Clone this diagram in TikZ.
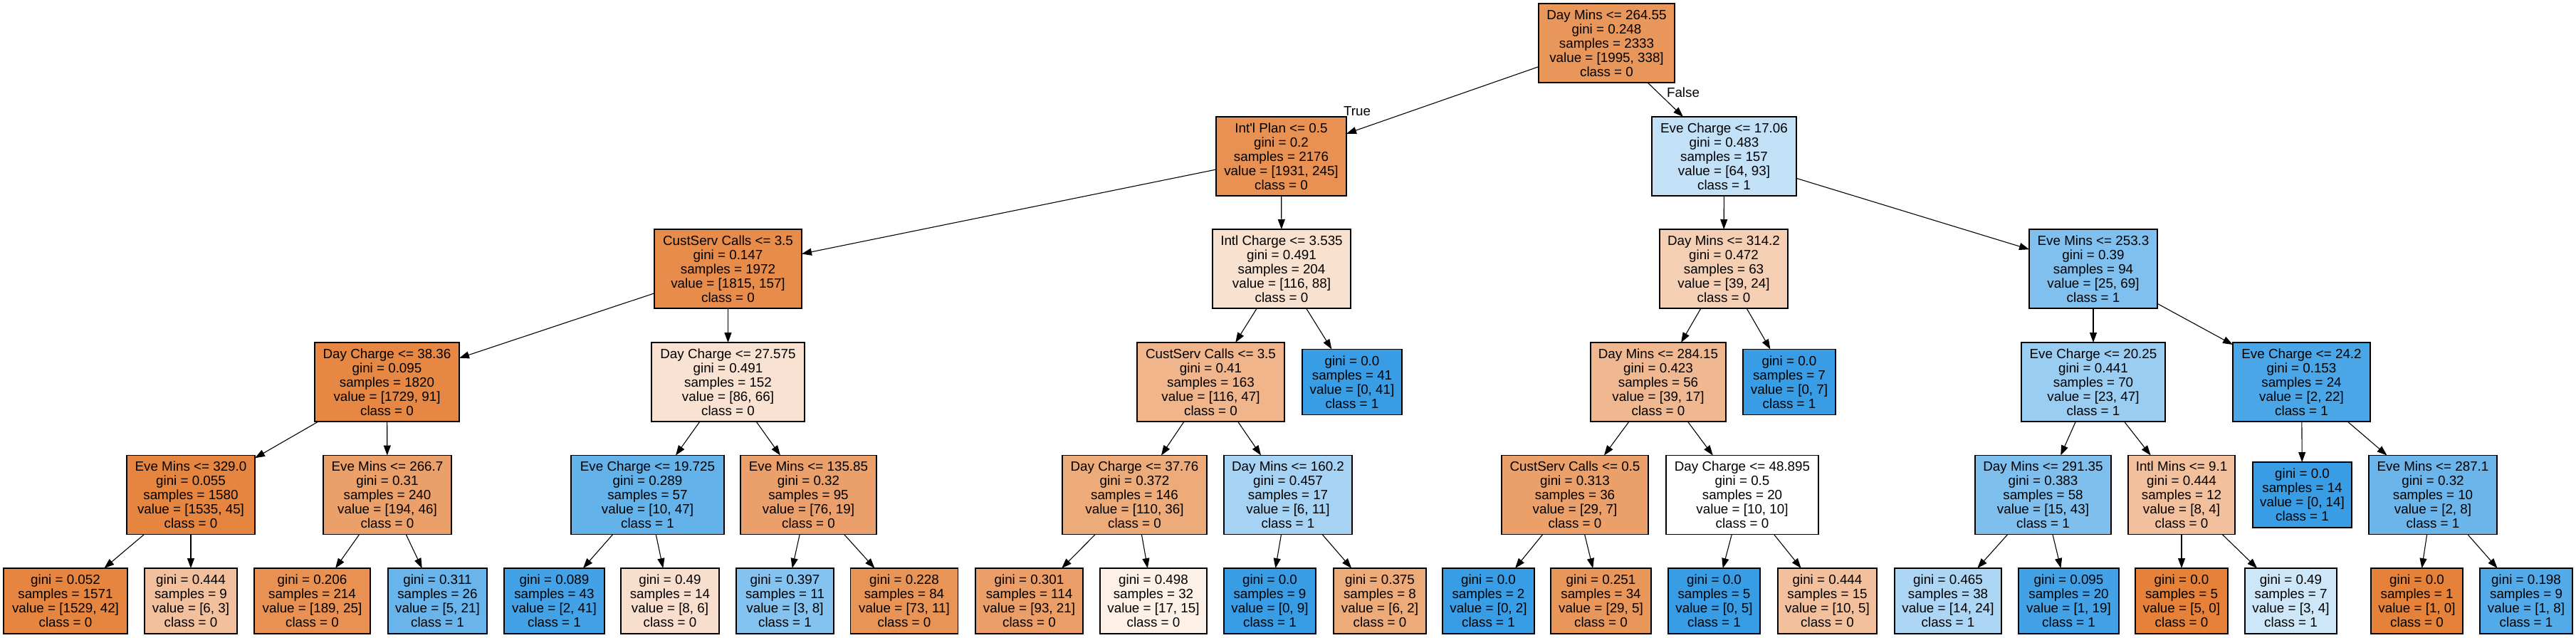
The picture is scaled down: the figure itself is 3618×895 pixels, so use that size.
\documentclass[tikz,border=0pt]{standalone}
\usepackage{fontspec}
\setmainfont{Liberation Sans}
\usetikzlibrary{arrows.meta}
\definecolor{cOr}{RGB}{229,129,57}
\definecolor{cBl}{RGB}{57,157,229}
\tikzset{
  tree/.style={draw=black, line width=0.7pt, rectangle, inner sep=0pt, outer sep=0pt,
    align=center, font=\fontsize{9.4}{10}\selectfont, minimum height=111*0.5pt},
  leaf/.style={tree, minimum height=92*0.5pt},
  bw/.style={minimum width=#1*0.5pt},
  edge/.style={draw=black, line width=0.55pt, -{Triangle[length=7pt,width=5pt]}},
  elabel/.style={font=\fontsize{9.4}{10}\selectfont, inner sep=0pt}
}
\begin{document}
\begin{tikzpicture}[x=0.5pt,y=-0.5pt]
\useasboundingbox (0,0) rectangle (3618,895);
% level 0
\node[tree,bw=191,fill=cOr!83] (n0) at (2256.5,60.5) {Day Mins <= 264.55\\gini = 0.248\\samples = 2333\\value = [1995, 338]\\class = 0};
% level 1
\node[tree,bw=183,fill=cOr!87] (n1) at (1799.5,219.5) {Int\textquotesingle l Plan <= 0.5\\gini = 0.2\\samples = 2176\\value = [1931, 245]\\class = 0};
\node[tree,bw=203,fill=cBl!31] (n2) at (2421.5,219.5) {Eve Charge <= 17.06\\gini = 0.483\\samples = 157\\value = [64, 93]\\class = 1};
% level 2
\node[tree,bw=207,fill=cOr!91] (n3) at (1022.5,377.5) {CustServ Calls <= 3.5\\gini = 0.147\\samples = 1972\\value = [1815, 157]\\class = 0};
\node[tree,bw=194,fill=cOr!24] (n4) at (1800,377.5) {Intl Charge <= 3.535\\gini = 0.491\\samples = 204\\value = [116, 88]\\class = 0};
\node[tree,bw=180,fill=cOr!38] (n5) at (2421,377.5) {Day Mins <= 314.2\\gini = 0.472\\samples = 63\\value = [39, 24]\\class = 0};
\node[tree,bw=180,fill=cBl!64] (n6) at (2940,377.5) {Eve Mins <= 253.3\\gini = 0.39\\samples = 94\\value = [25, 69]\\class = 1};
% level 3
\node[tree,bw=203,fill=cOr!95] (n7) at (543.5,536.5) {Day Charge <= 38.36\\gini = 0.095\\samples = 1820\\value = [1729, 91]\\class = 0};
\node[tree,bw=215,fill=cOr!23] (n8) at (1022.5,536.5) {Day Charge <= 27.575\\gini = 0.491\\samples = 152\\value = [86, 66]\\class = 0};
\node[tree,bw=207,fill=cOr!59] (n9) at (1700.5,536.5) {CustServ Calls <= 3.5\\gini = 0.41\\samples = 163\\value = [116, 47]\\class = 0};
\node[leaf,bw=140,fill=cBl] (n10) at (1899,536.5) {gini = 0.0\\samples = 41\\value = [0, 41]\\class = 1};
\node[tree,bw=190,fill=cOr!56] (n11) at (2329,536.5) {Day Mins <= 284.15\\gini = 0.423\\samples = 56\\value = [39, 17]\\class = 0};
\node[leaf,bw=130,fill=cBl] (n12) at (2513,536.5) {gini = 0.0\\samples = 7\\value = [0, 7]\\class = 1};
\node[tree,bw=202,fill=cBl!51] (n13) at (2940,536.5) {Eve Charge <= 20.25\\gini = 0.441\\samples = 70\\value = [23, 47]\\class = 1};
\node[tree,bw=193,fill=cBl!91] (n14) at (3232.5,536.5) {Eve Charge <= 24.2\\gini = 0.153\\samples = 24\\value = [2, 22]\\class = 1};
% level 4
\node[tree,bw=180,fill=cOr!97] (n15) at (268,695) {Eve Mins <= 329.0\\gini = 0.055\\samples = 1580\\value = [1535, 45]\\class = 0};
\node[tree,bw=180,fill=cOr!76] (n16) at (544,695) {Eve Mins <= 266.7\\gini = 0.31\\samples = 240\\value = [194, 46]\\class = 0};
\node[tree,bw=215,fill=cBl!79] (n17) at (909.5,695) {Eve Charge <= 19.725\\gini = 0.289\\samples = 57\\value = [10, 47]\\class = 1};
\node[tree,bw=191,fill=cOr!75] (n18) at (1135.5,695) {Eve Mins <= 135.85\\gini = 0.32\\samples = 95\\value = [76, 19]\\class = 0};
\node[tree,bw=203,fill=cOr!67] (n19) at (1593.5,695) {Day Charge <= 37.76\\gini = 0.372\\samples = 146\\value = [110, 36]\\class = 0};
\node[tree,bw=180,fill=cBl!45] (n20) at (1809,695) {Day Mins <= 160.2\\gini = 0.457\\samples = 17\\value = [6, 11]\\class = 1};
\node[tree,bw=206,fill=cOr!76] (n21) at (2212,695) {CustServ Calls <= 0.5\\gini = 0.313\\samples = 36\\value = [29, 7]\\class = 0};
\node[tree,bw=214,fill=white] (n22) at (2447,695) {Day Charge <= 48.895\\gini = 0.5\\samples = 20\\value = [10, 10]\\class = 0};
\node[tree,bw=191,fill=cBl!65] (n23) at (2869.5,695) {Day Mins <= 291.35\\gini = 0.383\\samples = 58\\value = [15, 43]\\class = 1};
\node[tree,bw=150,fill=cOr!50] (n24) at (3064,695) {Intl Mins <= 9.1\\gini = 0.444\\samples = 12\\value = [8, 4]\\class = 0};
\node[leaf,bw=139,fill=cBl] (n25) at (3233.5,695) {gini = 0.0\\samples = 14\\value = [0, 14]\\class = 1};
\node[tree,bw=180,fill=cBl!75] (n26) at (3417,695) {Eve Mins <= 287.1\\gini = 0.32\\samples = 10\\value = [2, 8]\\class = 1};
% level 5
\node[leaf,bw=174,fill=cOr!97] (n27) at (92,844) {gini = 0.052\\samples = 1571\\value = [1529, 42]\\class = 0};
\node[leaf,bw=130,fill=cOr!50] (n28) at (268,844) {gini = 0.444\\samples = 9\\value = [6, 3]\\class = 0};
\node[leaf,bw=163,fill=cOr!87] (n29) at (438.5,844) {gini = 0.206\\samples = 214\\value = [189, 25]\\class = 0};
\node[leaf,bw=139,fill=cBl!76] (n30) at (614.5,844) {gini = 0.311\\samples = 26\\value = [5, 21]\\class = 1};
\node[leaf,bw=141,fill=cBl!95] (n31) at (778.5,844) {gini = 0.089\\samples = 43\\value = [2, 41]\\class = 1};
\node[leaf,bw=138,fill=cOr!25] (n32) at (941,844) {gini = 0.49\\samples = 14\\value = [8, 6]\\class = 0};
\node[leaf,bw=137,fill=cBl!62] (n33) at (1102.5,844) {gini = 0.397\\samples = 11\\value = [3, 8]\\class = 1};
\node[leaf,bw=151,fill=cOr!85] (n34) at (1270,844) {gini = 0.228\\samples = 84\\value = [73, 11]\\class = 0};
\node[leaf,bw=151,fill=cOr!77] (n35) at (1445.5,844) {gini = 0.301\\samples = 114\\value = [93, 21]\\class = 0};
\node[leaf,bw=150,fill=cOr!12] (n36) at (1620,844) {gini = 0.498\\samples = 32\\value = [17, 15]\\class = 0};
\node[leaf,bw=129,fill=cBl] (n37) at (1783.5,844) {gini = 0.0\\samples = 9\\value = [0, 9]\\class = 1};
\node[leaf,bw=130,fill=cOr!67] (n38) at (1938,844) {gini = 0.375\\samples = 8\\value = [6, 2]\\class = 0};
\node[leaf,bw=129,fill=cBl] (n39) at (2090.5,844) {gini = 0.0\\samples = 2\\value = [0, 2]\\class = 1};
\node[leaf,bw=141,fill=cOr!83] (n40) at (2248.5,844) {gini = 0.251\\samples = 34\\value = [29, 5]\\class = 0};
\node[leaf,bw=129,fill=cBl] (n41) at (2407.5,844) {gini = 0.0\\samples = 5\\value = [0, 5]\\class = 1};
\node[leaf,bw=139,fill=cOr!50] (n42) at (2566.5,844) {gini = 0.444\\samples = 15\\value = [10, 5]\\class = 0};
\node[leaf,bw=150,fill=cBl!42] (n43) at (2736,844) {gini = 0.465\\samples = 38\\value = [14, 24]\\class = 1};
\node[leaf,bw=141,fill=cBl!95] (n44) at (2905.5,844) {gini = 0.095\\samples = 20\\value = [1, 19]\\class = 1};
\node[leaf,bw=130,fill=cOr] (n45) at (3064,844) {gini = 0.0\\samples = 5\\value = [5, 0]\\class = 0};
\node[leaf,bw=129,fill=cBl!25] (n46) at (3217.5,844) {gini = 0.49\\samples = 7\\value = [3, 4]\\class = 1};
\node[leaf,bw=129,fill=cOr] (n47) at (3394.5,844) {gini = 0.0\\samples = 1\\value = [1, 0]\\class = 0};
\node[leaf,bw=130,fill=cBl!87] (n48) at (3548,844) {gini = 0.198\\samples = 9\\value = [1, 8]\\class = 1};
% edge labels
\node[elabel] (lt) at (1906,156) {True};
\node[elabel] (lf) at (2364,130) {False};
% edges
\foreach \a/\b in {n0/n1,n0/n2,n1/n3,n1/n4,n2/n5,n2/n6,n3/n7,n3/n8,n4/n9,n4/n10,
  n5/n11,n5/n12,n6/n13,n6/n14,n7/n15,n7/n16,n8/n17,n8/n18,n9/n19,n9/n20,
  n11/n21,n11/n22,n13/n23,n13/n24,n14/n25,n14/n26,n15/n27,n15/n28,n16/n29,n16/n30,
  n17/n31,n17/n32,n18/n33,n18/n34,n19/n35,n19/n36,n20/n37,n20/n38,n21/n39,n21/n40,
  n22/n41,n22/n42,n23/n43,n23/n44,n24/n45,n24/n46,n26/n47,n26/n48}
  \draw[edge] (\a) -- (\b);
\end{tikzpicture}
\end{document}
